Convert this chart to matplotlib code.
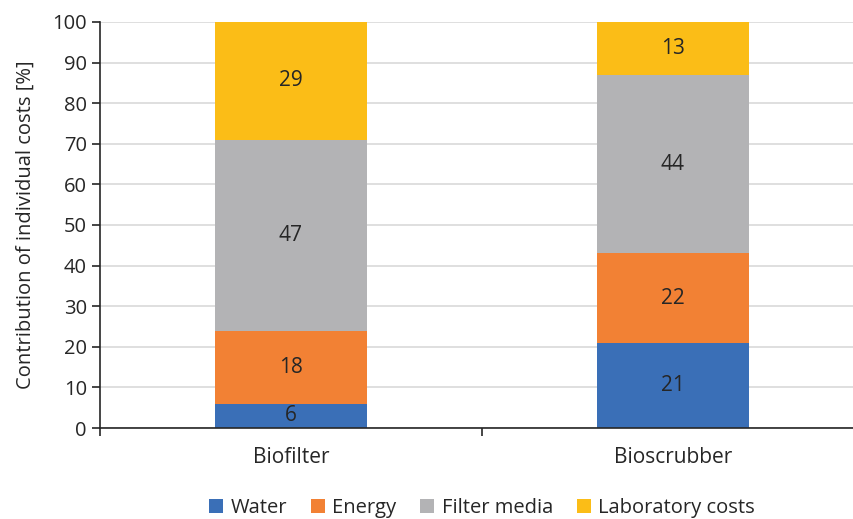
import numpy as np
import matplotlib.pyplot as plt

plt.rcParams['font.family'] = ['Open Sans', 'DejaVu Sans']

systems = ['Biofilter', 'Bioscrubber']
cost_types = ['Water', 'Energy', 'Filter media', 'Laboratory costs']
water = [6, 21]
energy = [18, 22]
filter_media = [47, 44]
lab_costs = [29, 13]
colors = ['#3a6fb7', '#f28134', '#b3b3b5', '#fbbd17']

fig = plt.figure(figsize=(8.54, 5.19), dpi=100)
ax = fig.add_axes([100 / 854, 1 - 428 / 519, 764 / 854, 406 / 519])

x = np.arange(len(systems))
bottom = np.zeros(len(systems))
for name, vals, c in zip(cost_types, [water, energy, filter_media, lab_costs], colors):
    ax.bar(x, vals, 0.4, bottom=bottom, color=c, label=name, zorder=2)
    for xi, b, v in zip(x, bottom, vals):
        ax.text(xi, b + v / 2, str(v), ha='center', va='center', fontsize=15, color='#262626', zorder=3)
    bottom += np.array(vals)

ax.set_xlim(-0.5, 1.5)
ax.set_ylim(0, 100)
ax.set_yticks(range(0, 101, 10))
ax.set_xticks(x)
ax.set_xticklabels(systems)
ax.set_xticks([-0.5, 0.5, 1.5], minor=True)
ax.tick_params(axis='x', which='major', length=0, pad=14, labelsize=15, labelcolor='#262626')
ax.tick_params(axis='x', which='minor', length=6, width=1.2, color='#262626')
ax.tick_params(axis='y', length=6, width=1.2, labelsize=14.5, labelcolor='#262626', color='#262626')
ax.grid(axis='y', color='#d9d9d9', linewidth=1.2, zorder=0)
for s in ['top', 'right']:
    ax.spines[s].set_visible(False)
for s in ['left', 'bottom']:
    ax.spines[s].set_color('#262626')
    ax.spines[s].set_linewidth(1.2)

ax.set_ylabel('Contribution of individual costs [%]', fontsize=14.5, color='#262626', labelpad=12)

fig.legend(loc='center', bbox_to_anchor=(482 / 854, 1 - 508 / 519), ncol=4, frameon=False,
           fontsize=14.5, handlelength=0.7, handleheight=0.7, handletextpad=0.35,
           columnspacing=1.2, labelcolor='#262626')

fig.savefig('out.png', dpi=100)
